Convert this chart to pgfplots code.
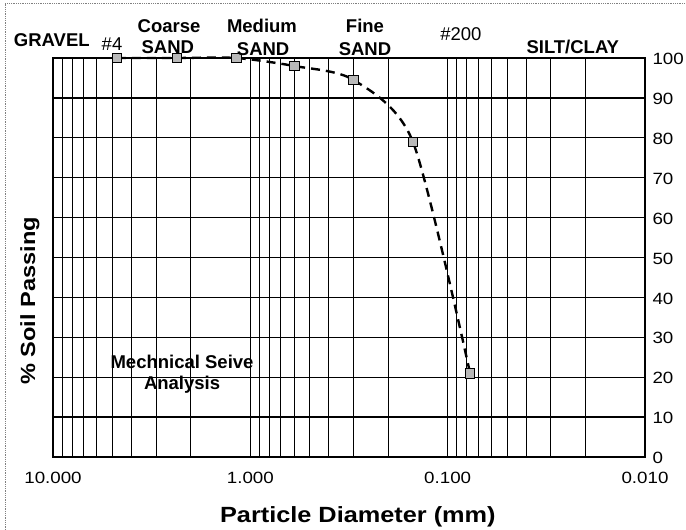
\documentclass[border=0pt]{standalone}
\usepackage{fontspec}
\setmainfont{Liberation Sans}
\newfontfamily\widefont{Liberation Sans}[FakeStretch=1.15]
\usepackage{pgfplots}
\pgfplotsset{compat=1.18}
\pgfplotstableread{
d      p
4.75   100
2.36   100
1.18   100
0.60   98
0.30   94.5
0.15   79
0.077  21
}\sieve
\begin{document}
\begin{tikzpicture}[x=1pt,y=1pt]
\useasboundingbox (-53,-73) rectangle (633,457);
\begin{axis}[
  at={(0,0)}, anchor=south west,
  scale only axis, width=592pt, height=399pt,
  xmode=log, x dir=reverse,
  xmin=0.01, xmax=10, ymin=0, ymax=100,
  xtick={10,1,0.1,0.01},
  xticklabels={10.000,1.000,0.100,0.010},
  minor xtick={0.02,0.03,0.04,0.05,0.06,0.07,0.08,0.09,0.2,0.3,0.4,0.5,0.6,0.7,0.8,0.9,2,3,4,5,6,7,8,9},
  ytick={0,10,20,30,40,50,60,70,80,90,100},
  yticklabels={0,10,20,30,40,50,60,70,80,90,100},
  yticklabel pos=right,
  grid=both,
  every axis x grid/.style={black, line width=1pt},
  every axis y grid/.style={black, line width=1.3pt},
  major grid style={black},
  minor grid style={black, line width=0.9pt},
  major tick length=0pt, minor tick length=0pt,
  axis line style={line width=2pt},
  ticklabel style={font=\widefont\fontsize{16.3}{18}\selectfont},
  xticklabel style={yshift=-12pt},
  yticklabel style={anchor=west, xshift=4pt, yshift=-1pt},
  clip=false,
  after end axis/.code={
    \node[font=\widefont\bfseries\fontsize{22}{24}\selectfont, anchor=base] at (axis description cs:0.515,-0.163) {Particle Diameter (mm)};
    \node[font=\widefont\bfseries\fontsize{20.5}{22}\selectfont, rotate=90, anchor=center] at (axis description cs:-0.039,0.391) {\% Soil Passing};
    \begin{scope}[font=\bfseries\fontsize{18.5}{20}\selectfont]
      \node[anchor=base] at (axis description cs:-0.002,1.0276) {GRAVEL};
      \node[anchor=base, font=\fontsize{18.5}{20}\selectfont] at (axis description cs:0.0997,1.020) {\#4};
      \node[anchor=base] at (axis description cs:0.196,1.065) {Coarse};
      \node[anchor=base] at (axis description cs:0.194,1.0125) {SAND};
      \node[anchor=base] at (axis description cs:0.353,1.065) {Medium};
      \node[anchor=base] at (axis description cs:0.355,1.0075) {SAND};
      \node[anchor=base] at (axis description cs:0.527,1.0627) {Fine};
      \node[anchor=base] at (axis description cs:0.527,1.0075) {SAND};
      \node[anchor=base, font=\fontsize{18.5}{20}\selectfont] at (axis description cs:0.689,1.045) {\#200};
      \node[anchor=base] at (axis description cs:0.878,1.0125) {SILT/CLAY};
      \node[anchor=base] at (axis description cs:0.218,0.223) {Mechnical Seive};
      \node[anchor=base] at (axis description cs:0.218,0.168) {Analysis};
    \end{scope}
    \draw[gray, densely dotted, line width=0.8pt] (axis description cs:-0.081,-0.183) -- (axis description cs:-0.081,1.138) -- (axis description cs:1.07,1.138);
  },
]
\addplot[black, line width=2.4pt, dash pattern=on 9pt off 6pt, smooth, tension=0.45,
  mark=square*, mark options={solid, fill=gray!55, draw=black, line width=0.8pt}, mark size=4.8pt]
  table[x=d, y=p] {\sieve};
\end{axis}
\end{tikzpicture}
\end{document}
